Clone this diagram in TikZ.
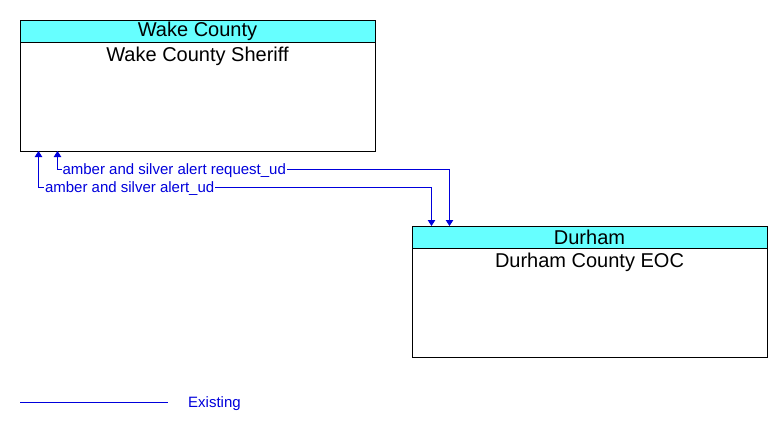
\documentclass[tikz,border=0pt]{standalone}
\usepackage{fontspec}
\setmainfont{Liberation Sans}
\usetikzlibrary{arrows.meta}
\usetikzlibrary{positioning}
\definecolor{headercyan}{RGB}{102,255,255}
\definecolor{flowblue}{RGB}{0,0,220}
\tikzstyle{header}=[draw, fill=headercyan, line width=1pt, outer sep=0pt, minimum width=355pt, minimum height=22pt, inner sep=0pt, font=\fontsize{20}{20}\selectfont]
\tikzstyle{body}=[draw, line width=1pt, outer sep=0pt, minimum width=355pt, minimum height=109pt, inner sep=0pt]
\tikzstyle{title}=[inner sep=0pt, font=\fontsize{20}{20}\selectfont]
\tikzstyle{flow line}=[flowblue, line width=1pt]
\tikzstyle{flow}=[flow line, {Triangle[width=7.5pt,length=6pt]}-{Triangle[width=7.5pt,length=6pt]}]
\tikzstyle{flow label}=[text=flowblue, fill=white, inner sep=1pt, font=\fontsize{15}{15}\selectfont]

\begin{document}
\begin{tikzpicture}[x=1pt, y=-1pt]
      \useasboundingbox (0,0) rectangle (782,429);
      \node[header] (wakeh) at (197.5,31) {Wake County};
      \node[body, below=0pt of wakeh] (wake) {};
      \node[title, below=4.5pt of wakeh] (wakename) {Wake County Sheriff};
      \node[header] (durhamh) at (589.5,237) {Durham};
      \node[body, below=0pt of durhamh] (durham) {};
      \node[title, below=4.5pt of durhamh] (durhamname) {Durham County EOC};
      \draw[flow] ([xshift=-140pt]wake.south)
        -- ++(0,18.5)
        -| node[flow label, pos=0, anchor=west, xshift=3.5pt, yshift=-1.5pt] (reqlabel) {amber and silver alert request\_ud}
        ([xshift=-140pt]durhamh.north);
      \draw[flow] ([xshift=-159pt]wake.south)
        -- ++(0,36.5)
        -| node[flow label, pos=0, anchor=west, xshift=5pt, yshift=-1.5pt] (alertlabel) {amber and silver alert\_ud}
        ([xshift=-158pt]durhamh.north);
      % legend
      \coordinate (legstart) at (20,402.5);
      \coordinate (legend) at (168,402.5);
      \draw[flow line] (legstart) -- (legend);
      \node[flow label, anchor=west, yshift=-1.5pt] (existing) at (187,402) {Existing};
    \end{tikzpicture}
\end{document}
